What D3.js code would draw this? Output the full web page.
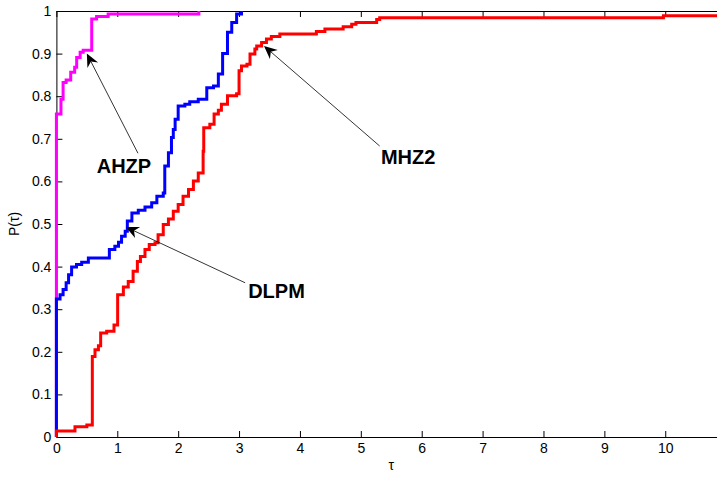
<!DOCTYPE html>
<html>
<head>
<meta charset="utf-8">
<script src="https://cdn.jsdelivr.net/npm/d3@7"></script>
<style>
  body { margin: 0; background: #fff; }
  svg { display: block; font-family: "Liberation Sans", Arial, Helvetica, sans-serif; }
</style>
</head>
<body>
<div id="chart"></div>
<script>
const W = 717, H = 477
const margin = {top: 11, left: 56.4, bottom: 40}

// series (tau, P(tau)), drawn as stairs
const ahzpX = [0, 0, 0.075, 0.11, 0.16, 0.235, 0.3, 0.333, 0.39, 0.44, 0.58, 0.66, 0.85, 2.34]
const ahzpY = [0, 0.758, 0.793, 0.832, 0.838, 0.856, 0.868, 0.891, 0.903, 0.908, 0.981, 0.987, 0.993, 1.0]

const dlpmX = [0, 0, 0.06, 0.11, 0.16, 0.2, 0.25, 0.33, 0.415, 0.525, 0.87, 0.96, 1.02, 1.07, 1.13, 1.165,
  1.24, 1.345, 1.455, 1.565, 1.65, 1.755, 1.78, 1.84, 1.89, 1.92, 1.95, 2.0, 2.11, 2.19, 2.33, 2.47,
  2.58, 2.66, 2.73, 2.81, 2.88, 2.96, 3.04]
const dlpmY = [0, 0.324, 0.334, 0.346, 0.362, 0.381, 0.399, 0.405, 0.41, 0.42, 0.44, 0.448, 0.457, 0.471, 0.483, 0.507,
  0.526, 0.532, 0.54, 0.55, 0.565, 0.573, 0.636, 0.667, 0.703, 0.722, 0.746, 0.777, 0.781, 0.787, 0.793, 0.82,
  0.824, 0.852, 0.9, 0.95, 0.973, 0.993, 1.0]

const mhz2X = [0, 0, 0.305, 0.5, 0.59, 0.634, 0.69, 0.727, 0.826, 0.946, 1.006, 1.1, 1.18, 1.26, 1.33, 1.38,
  1.455, 1.525, 1.62, 1.67, 1.755, 1.84, 1.92, 2.0, 2.08, 2.17, 2.25, 2.33, 2.41, 2.42, 2.52, 2.59, 2.66,
  2.71, 2.81, 2.96, 3.0, 3.04, 3.13, 3.18, 3.26, 3.29, 3.37, 3.45, 3.53, 3.67, 4.27, 4.41, 4.71, 4.85,
  4.92, 5.26, 5.31, 9.97, 10.85]
const mhz2Y = [0, 0.014, 0.024, 0.028, 0.189, 0.205, 0.214, 0.244, 0.248, 0.263, 0.334, 0.352, 0.365, 0.389, 0.412, 0.424,
  0.44, 0.452, 0.456, 0.475, 0.499, 0.512, 0.53, 0.546, 0.565, 0.581, 0.601, 0.62, 0.671, 0.726, 0.734, 0.758, 0.767,
  0.781, 0.801, 0.806, 0.86, 0.871, 0.875, 0.899, 0.911, 0.918, 0.926, 0.934, 0.94, 0.946, 0.952, 0.958, 0.963, 0.969,
  0.973, 0.98, 0.984, 0.989, 0.989]

const xTicks = [0, 1, 2, 3, 4, 5, 6, 7, 8, 9, 10]
const yTicks = [0, 0.1, 0.2, 0.3, 0.4, 0.5, 0.6, 0.7, 0.8, 0.9, 1]
const yTickLabels = ["0", "0.1", "0.2", "0.3", "0.4", "0.5", "0.6", "0.7", "0.8", "0.9", "1"]

// annotation: label, arrow tip, arrow tail, text start (all in data units)
const noteLabels = ["AHZP", "DLPM", "MHZ2"]
const noteTip = [[0.5, 0.9], [1.14, 0.493], [3.41, 0.918]]
const noteTail = [[1.34, 0.666], [3.1, 0.362], [5.31, 0.683]]
const noteText = [[0.662, 0.6205], [3.15, 0.326], [5.33, 0.64]]

const series = [
  {x: ahzpX, y: ahzpY, color: "#ff00ff"},
  {x: dlpmX, y: dlpmY, color: "#0000ff"},
  {x: mhz2X, y: mhz2Y, color: "#ff0000"}
]

const x = d3.scaleLinear().domain([0, 10.85]).range([margin.left, W])
const y = d3.scaleLinear().domain([0, 1]).range([H - margin.bottom, margin.top])

const svg = d3.select("#chart").append("svg")
  .attr("width", W)
  .attr("height", H)

// axes, matlab style with inward ticks
svg.append("g")
  .attr("transform", "translate(0," + y(0) + ")")
  .call(d3.axisBottom(x).tickValues(xTicks).tickSize(-6).tickSizeOuter(0).tickPadding(6).tickFormat(d3.format("d")))
svg.append("g")
  .attr("transform", "translate(0," + y(1) + ")")
  .call(d3.axisTop(x).tickValues(xTicks).tickSize(-6).tickSizeOuter(0).tickFormat(""))
svg.append("g")
  .attr("transform", "translate(" + x(0) + ",0)")
  .call(d3.axisLeft(y).tickValues(yTicks).tickSize(-6).tickSizeOuter(0).tickPadding(5)
    .tickFormat((d, i) => yTickLabels[i]))

svg.selectAll(".tick text").attr("font-size", 14).attr("font-family", "Liberation Sans, Arial, sans-serif").attr("fill", "#000")
svg.selectAll(".domain, .tick line").attr("stroke", "#000")

// stairs
const line = d3.line()
  .x(d => x(d[0]))
  .y(d => y(d[1]))
  .curve(d3.curveStepAfter)

series.forEach(s => {
  svg.append("path")
    .datum(s.x.map((v, i) => [v, s.y[i]]))
    .attr("fill", "none")
    .attr("stroke", s.color)
    .attr("stroke-width", 3)
    .attr("d", line)
})

// arrows and labels
noteLabels.forEach((lab, i) => {
  const tx = x(noteTip[i][0]), ty = y(noteTip[i][1])
  const bx = x(noteTail[i][0]), by = y(noteTail[i][1])
  const ang = Math.atan2(ty - by, tx - bx)
  const len = 13, half = 6, notch = 9
  const ux = Math.cos(ang), uy = Math.sin(ang)
  const px = -uy, py = ux
  svg.append("line")
    .attr("x1", bx).attr("y1", by)
    .attr("x2", tx - ux * notch).attr("y2", ty - uy * notch)
    .attr("stroke", "#000")
    .attr("stroke-width", 0.8)
  const head = [
    [tx, ty],
    [tx - ux * len + px * half, ty - uy * len + py * half],
    [tx - ux * notch, ty - uy * notch],
    [tx - ux * len - px * half, ty - uy * len - py * half]
  ]
  svg.append("polygon")
    .attr("points", head.map(p => p.join(",")).join(" "))
    .attr("fill", "#000")
  svg.append("text")
    .attr("x", x(noteText[i][0]))
    .attr("y", y(noteText[i][1]))
    .attr("font-size", 20)
    .attr("font-weight", "bold")
    .attr("fill", "#000")
    .text(lab)
})

// axis titles
svg.append("text")
  .attr("x", x(5.5))
  .attr("y", 470)
  .attr("text-anchor", "middle")
  .attr("font-size", 14)
  .text("τ")
svg.append("text")
  .attr("transform", "translate(19," + y(0.5) + ") rotate(-90)")
  .attr("text-anchor", "middle")
  .attr("font-size", 14)
  .text("P(τ)")
</script>
</body>
</html>
